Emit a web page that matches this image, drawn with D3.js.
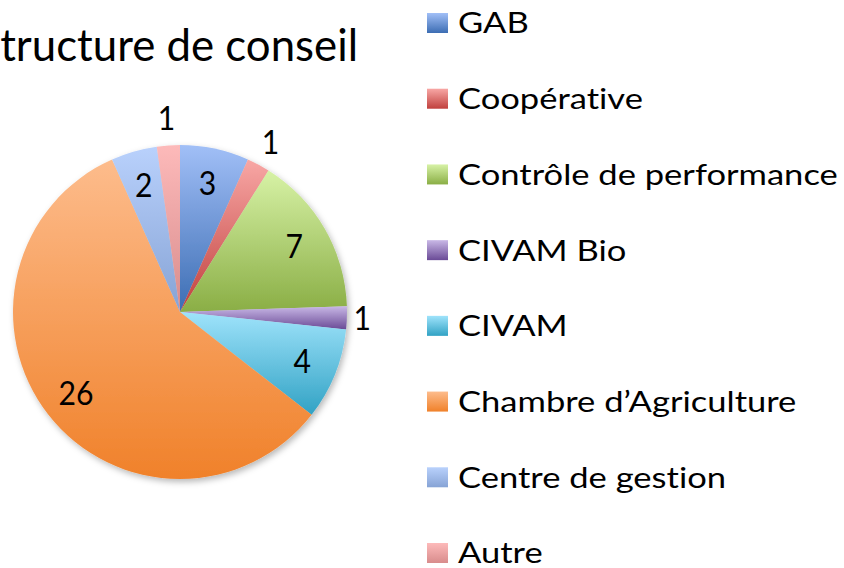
<!DOCTYPE html>
<html><head><meta charset="utf-8">
<script src="https://cdn.jsdelivr.net/npm/d3@7"></script>
<style>html,body{margin:0;padding:0;background:#fff;} svg{display:block;} text{font-variant-ligatures:none;font-feature-settings:"liga" 0,"dlig" 0;}</style>
</head><body>
<svg id="chart" width="844" height="568"></svg>
<script>
const categories = ["GAB","Coopérative","Contrôle de performance","CIVAM Bio","CIVAM","Chambre d’Agriculture","Centre de gestion","Autre"];
const values = [3,1,7,1,4,26,2,1];
const colorTop = ["#A1BFF7","#F8A7A5","#D7F2A6","#C9B8E6","#9FE3FB","#FDBC8C","#B9D1FC","#FDBABA"];
const colorBottom = ["#3C6DB3","#C0403D","#8AAE45","#6A4A96","#31A2C4","#F0812A","#86A3D5","#D88C8C"];
const title = "Structure de conseil";

const FONT = "Lato, 'Open Sans', sans-serif";
const svg = d3.select("#chart");
const defs = svg.append("defs");

categories.forEach((c,i)=>{
  const g = defs.append("linearGradient").attr("id","g"+i).attr("x1",0).attr("y1",0).attr("x2",0).attr("y2",1);
  g.append("stop").attr("offset","0%").attr("stop-color",colorTop[i]);
  g.append("stop").attr("offset","100%").attr("stop-color",colorBottom[i]);
});
const f = defs.append("filter").attr("id","shadow").attr("x","-20%").attr("y","-20%").attr("width","140%").attr("height","140%");
f.append("feDropShadow").attr("dx",2).attr("dy",3).attr("stdDeviation",3).attr("flood-color","#000").attr("flood-opacity",0.28);

function measure(text, size){
  const t = svg.append("text").attr("font-family",FONT).attr("font-size",size).text(text);
  const w = t.node().getComputedTextLength();
  t.remove();
  return w;
}

// Title: x-height ~23px, "tructure de conseil" spans 0..358
const titleSize = 45;
const sxT = 358 / measure("tructure de conseil", titleSize);
svg.append("text").attr("transform",`translate(358,61) scale(${sxT},1)`).attr("text-anchor","end")
  .attr("font-family",FONT).attr("font-size",titleSize).attr("fill","#000").text(title);

// Pie
const cx = 180, cy = 312, R = 167;
const pie = d3.pie().sort(null).value(d=>d)(values);
const arc = d3.arc().innerRadius(0).outerRadius(R);
const gPie = svg.append("g").attr("transform",`translate(${cx},${cy})`);
gPie.append("g").attr("filter","url(#shadow)")
  .selectAll("path").data(pie).join("path")
  .attr("d",arc).attr("fill",(d,i)=>`url(#g${i})`);

const labelSize = 33;
const sxL = 35 / measure("26", labelSize);
const capH = labelSize*0.72;
gPie.selectAll("text.lbl").data(pie).join("text").attr("class","lbl")
  .attr("font-family",FONT).attr("font-size",labelSize).attr("fill","#000")
  .attr("text-anchor","middle")
  .attr("transform",d=>{
    const a = (d.startAngle+d.endAngle)/2;
    const small = (d.endAngle-d.startAngle) < 0.2;
    const r = small ? R + 15 + Math.abs(Math.cos(a))*12 : R*0.79;
    const x = Math.sin(a)*r, y = -Math.cos(a)*r;
    return `translate(${x},${y + capH/2}) scale(${sxL},1)`;
  })
  .text(d=>d.data);

// Legend: cap height ~21px, widest entry spans 458..838
const legendSize = 29;
const sxG = 380 / measure("Contrôle de performance", legendSize);
const legY = d3.scalePoint().domain(categories).range([23,553]);
const items = svg.append("g").selectAll("g").data(categories).join("g")
  .attr("transform",d=>`translate(0,${legY(d)})`);
items.append("rect").attr("x",427).attr("y",-10).attr("width",21).attr("height",20)
  .attr("fill",(d,i)=>`url(#g${i})`);
items.append("text").attr("transform",`translate(458,${legendSize*0.72/2}) scale(${sxG},1)`)
  .attr("font-family",FONT).attr("font-size",legendSize).attr("fill","#000").text(d=>d);
</script>
</body></html>
